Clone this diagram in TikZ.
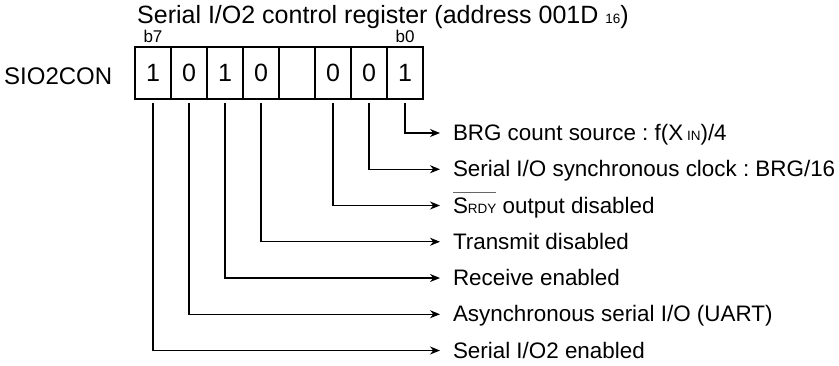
\documentclass[tikz,border=0pt]{standalone}
\usepackage{fontspec}
\setmainfont{Liberation Sans}
\usetikzlibrary{arrows.meta,positioning}
\frenchspacing
\newcommand{\smalltxt}[1]{{\fontsize{13.5pt}{13.5pt}\selectfont #1}}
\newsavebox{\barbox}
\newcommand{\overbar}[1]{\sbox{\barbox}{#1}\rlap{\raisebox{20.5pt}{\color{black!60}\rule{\wd\barbox}{0.9pt}}}\usebox{\barbox}}

\begin{document}
\begin{tikzpicture}[x=1pt, y=-1pt, every node/.style={font=\fontsize{22.4pt}{24pt}\selectfont, inner sep=0pt}, cell/.style={draw, line width=1.5pt, minimum width=36pt, minimum height=52pt, text height=18pt, text depth=2pt, font=\fontsize{25pt}{26pt}\selectfont}, bitlbl/.style={anchor=base, font=\fontsize{17pt}{17pt}\selectfont}, lbl/.style={anchor=west, outer xsep=13pt, text height=16pt, text depth=1pt}, arr/.style={-{Stealth[length=10pt, width=8pt]}, line width=1.1pt, shorten <=3.5pt}]
\useasboundingbox (0,0) rectangle (839,365);
\node[anchor=base west, font=\fontsize{25pt}{25pt}\selectfont] (title) at (137,23) {Serial I/O2 control register (address 001D \smalltxt{16})};
\foreach \v [count=\i] in {1,0,1,0,{},0,0,1}
  \node[cell] (c\i) at ({117+36*\i},73) {\v};
\node[bitlbl] (b7) at ([yshift=4pt]c1.north) {b7};
\node[bitlbl] (b0) at ([yshift=4pt]c8.north) {b0};
\node[anchor=base west, font=\fontsize{24pt}{24pt}\selectfont] (reg) at (4,84) {SIO2CON};
\node[lbl] (l0) at (440,133) {BRG count source : f(X\,\smalltxt{IN})/4};
\node[lbl] (l1) at (440,169.25) {Serial I/O synchronous clock : BRG/16};
\node[lbl] (l2) at (440,205.5) {\overbar{S\smalltxt{RDY}} output disabled};
\node[lbl] (l3) at (440,241.75) {Transmit disabled};
\node[lbl] (l4) at (440,278) {Receive enabled};
\node[lbl] (l5) at (440,314.25) {Asynchronous serial I/O (UART)};
\node[lbl] (l6) at (440,350.5) {Serial I/O2 enabled};
\draw[arr] (c8.south) |- (l0.west);
\draw[arr] (c7.south) |- (l1.west);
\draw[arr] (c6.south) |- (l2.west);
\draw[arr] (c4.south) |- (l3.west);
\draw[arr] (c3.south) |- (l4.west);
\draw[arr] (c2.south) |- (l5.west);
\draw[arr] (c1.south) |- (l6.west);
\end{tikzpicture}
\end{document}
